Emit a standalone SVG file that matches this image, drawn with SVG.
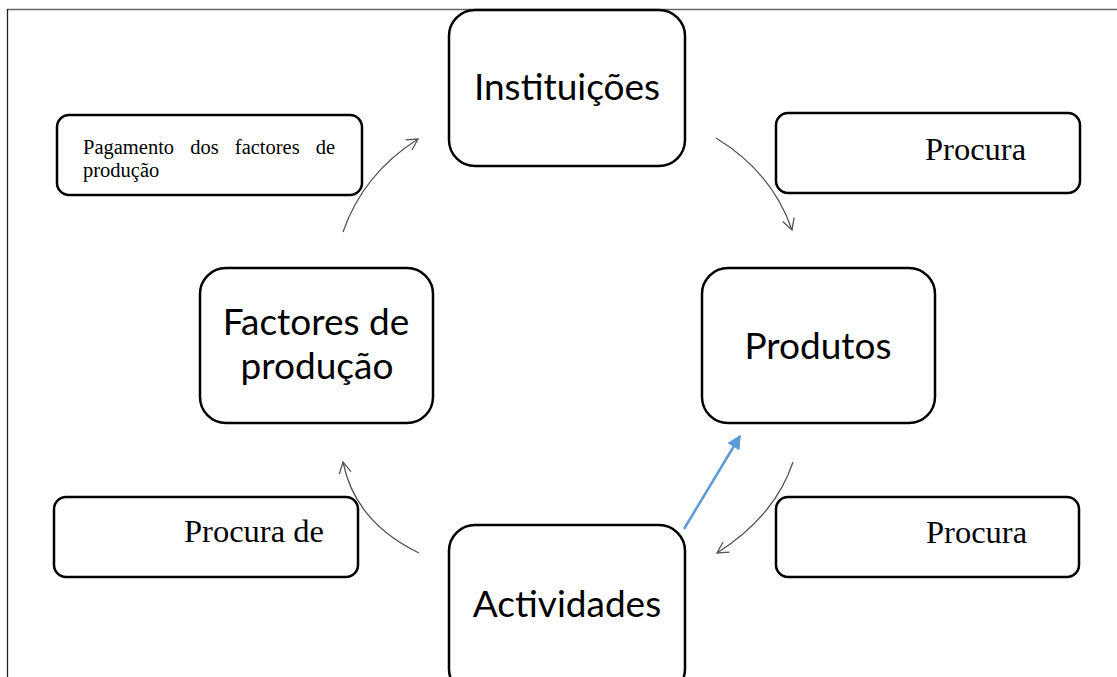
<svg xmlns="http://www.w3.org/2000/svg" width="1117" height="677" viewBox="0 0 1117 677">
<defs>
<style>
.node{fill:#fff;stroke:#000;stroke-width:2.5}
.lbl{fill:#fff;stroke:#000;stroke-width:2.5}
.nt{font-family:Lato,"Open Sans","Liberation Sans",sans-serif;font-size:37px;fill:#000;text-anchor:middle}
.lt{font-family:"Liberation Serif","Times New Roman",serif;fill:#000}
.big{font-size:32.5px}
.conn{fill:none;stroke:#555;stroke-width:1.3}
</style>
<marker id="open" viewBox="0 0 14 14" refX="12" refY="7" markerWidth="14" markerHeight="14" markerUnits="userSpaceOnUse" orient="auto">
<path d="M1,1 L12,7 L1,13" fill="none" stroke="#555" stroke-width="1.3"/>
</marker>
<marker id="blue" viewBox="0 0 10 10" refX="9" refY="5" markerWidth="14" markerHeight="14" markerUnits="userSpaceOnUse" orient="auto">
<path d="M0,0 L10,5 L0,10 Z" fill="#5B9BD5"/>
</marker>
</defs>
<rect width="1117" height="677" fill="#fff"/>
<g id="frame">
<line x1="7" y1="9.5" x2="1117" y2="9.5" stroke="#666" stroke-width="1.5"/>
<line x1="7.5" y1="9" x2="7.5" y2="677" stroke="#222" stroke-width="1.3"/>
</g>
<g id="connectors">
<path class="conn" d="M343,232 Q363,174 418,139" marker-end="url(#open)"/>
<path class="conn" d="M716,138 Q772,172 792,230" marker-end="url(#open)"/>
<path class="conn" d="M793,462 Q775,516 717,553" marker-end="url(#open)"/>
<path class="conn" d="M419,553 Q355,522 343,462" marker-end="url(#open)"/>
<line x1="684" y1="529" x2="740" y2="436" stroke="#5B9BD5" stroke-width="2.5" marker-end="url(#blue)"/>
</g>
<g id="instituicoes">
<rect class="node" x="449" y="10" width="236" height="156" rx="26"/>
<text class="nt" x="567" y="100">Instituições</text>
</g>
<g id="factores">
<rect class="node" x="200" y="268" width="233" height="155" rx="26"/>
<text class="nt" x="316" y="335">Factores de</text>
<text class="nt" x="317" y="379">produção</text>
</g>
<g id="produtos">
<rect class="node" x="702" y="268" width="233" height="155" rx="26"/>
<text class="nt" x="818" y="359">Produtos</text>
</g>
<g id="actividades">
<rect class="node" x="449" y="525" width="236" height="170" rx="26"/>
<text class="nt" x="567" y="617">Actividades</text>
</g>
<g id="pagamento">
<rect class="lbl" x="57" y="115" width="305" height="80" rx="12"/>
<text class="lt" x="83" y="154" font-size="20.5" word-spacing="11">Pagamento dos factores de</text>
<text class="lt" x="83" y="177" font-size="20.5">produção</text>
</g>
<g id="procura1">
<rect class="lbl" x="776" y="113" width="304" height="80" rx="12"/>
<text class="lt big" x="925" y="160">Procura</text>
</g>
<g id="procura2">
<rect class="lbl" x="776" y="497" width="303" height="80" rx="12"/>
<text class="lt big" x="926" y="543">Procura</text>
</g>
<g id="procurade">
<rect class="lbl" x="54" y="497" width="304" height="80" rx="12"/>
<text class="lt big" x="184" y="542">Procura de</text>
</g>
</svg>
